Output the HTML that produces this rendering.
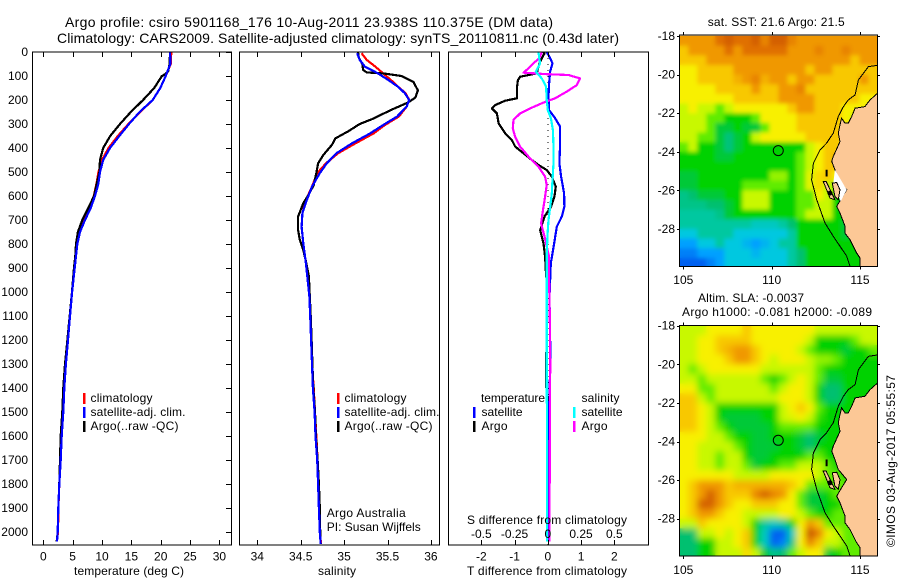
<!DOCTYPE html>
<html>
<head>
<meta charset="utf-8">
<title>Argo profile</title>
<style>
html,body{margin:0;padding:0;background:#fff;}
svg{display:block;}
text{font-family:"Liberation Sans",sans-serif;font-size:12px;fill:#000;}
.big{font-size:14px;}
.line{fill:none;stroke-width:2.2;shape-rendering:crispEdges;stroke-linejoin:round;}
.frame{fill:none;stroke:#000;stroke-width:1.4;shape-rendering:crispEdges;}
</style>
</head>
<body>
<svg id="chart" xmlns="http://www.w3.org/2000/svg" width="900" height="580" viewBox="0 0 900 580">
<rect x="0" y="0" width="900" height="580" fill="#fff"/>
<text class="big" x="65" y="27" textLength="488" lengthAdjust="spacing">Argo profile: csiro 5901168_176 10-Aug-2011 23.938S 110.375E (DM data)</text>
<text class="big" x="57" y="43" textLength="562" lengthAdjust="spacing">Climatology: CARS2009. Satellite-adjusted climatology: synTS_20110811.nc (0.43d later)</text>

<g id="p1"></g>
<g id="p2"></g>
<g id="p3"></g>

<text x="74" y="575" textLength="110">temperature (deg C)</text>
<text x="318" y="575" textLength="38">salinity</text>
<text x="467" y="575" textLength="160">T difference from climatology</text>
<text x="467" y="524" textLength="160">S difference from climatology</text>

<g>
<rect x="83" y="393" width="2.5" height="11" fill="#f00"/>
<rect x="83" y="407" width="2.5" height="11" fill="#00f"/>
<rect x="83" y="421" width="2.5" height="11" fill="#000"/>
<text x="90.5" y="402" textLength="62">climatology</text>
<text x="90.5" y="416" textLength="95">satellite-adj. clim.</text>
<text x="90.5" y="430" textLength="88">Argo(..raw -QC)</text>
</g>
<g>
<rect x="337" y="393" width="2.5" height="11" fill="#f00"/>
<rect x="337" y="407" width="2.5" height="11" fill="#00f"/>
<rect x="337" y="421" width="2.5" height="11" fill="#000"/>
<text x="344.5" y="402" textLength="62">climatology</text>
<text x="344.5" y="416" textLength="95">satellite-adj. clim.</text>
<text x="344.5" y="430" textLength="88">Argo(..raw -QC)</text>
<text x="326.7" y="517" textLength="79">Argo Australia</text>
<text x="326.7" y="531" textLength="94">PI: Susan Wijffels</text>
</g>
<g>
<text x="481" y="402" textLength="64">temperature</text>
<text x="581.5" y="402" textLength="38">salinity</text>
<rect x="473" y="407" width="2.5" height="11" fill="#00f"/>
<rect x="473" y="421" width="2.5" height="11" fill="#000"/>
<rect x="573" y="407" width="2.5" height="11" fill="#0ff"/>
<rect x="573" y="421" width="2.5" height="11" fill="#f0f"/>
<text x="481.5" y="416" textLength="41">satellite</text>
<text x="481.5" y="430" textLength="26">Argo</text>
<text x="581.5" y="416" textLength="41">satellite</text>
<text x="581.5" y="430" textLength="26">Argo</text>
</g>

<defs>
<clipPath id="clip1"><rect x="679.3" y="35" width="198" height="231.7"/></clipPath>
<clipPath id="clip2"><rect x="679.3" y="325.7" width="198" height="230.5"/></clipPath>
<filter id="soft1" filterUnits="userSpaceOnUse" x="660" y="20" width="240" height="260"><feGaussianBlur stdDeviation="2.2"/></filter>
<filter id="soft2" filterUnits="userSpaceOnUse" x="660" y="310" width="240" height="260"><feGaussianBlur stdDeviation="3.4"/></filter>
</defs>
<g id="m1"></g>
<g id="m2"></g>

<text x="707.7" y="26" textLength="137">sat. SST: 21.6 Argo: 21.5</text>
<text x="698" y="302" textLength="106">Altim. SLA: -0.0037</text>
<text x="682" y="316" textLength="190">Argo h1000: -0.081 h2000: -0.089</text>
<text transform="translate(895,547) rotate(-90)" textLength="172">©IMOS 03-Aug-2017 05:55:57</text>
</svg>

<script>
// ---- shared tick labels ----
const depthTicks = [0,100,200,300,400,500,600,700,800,900,1000,1100,1200,1300,1400,1500,1600,1700,1800,1900,2000];
const tempTicks = [0,5,10,15,20,25,30];
const salTicks = [34,34.5,35,35.5,36];
const salTickLabels = ['34','34.5','35','35.5','36'];
const tDiffTicks = [-2,-1,0,1,2];
const sDiffTicks = [-0.5,-0.25,0,0.25,0.5];
const sDiffTickLabels = ['-0.5','-0.25','0','0.25','0.5'];
const lonTicks = [105,110,115];
const latTicks = [-18,-20,-22,-24,-26,-28];

// ---- temperature panel ----
const tempClimDepths = [0,50,100,150,200,250,300,350,400,450,500,550,600,650,700,750,800,900,1000,1100,1200,1300,1400,1500,1600,1700,1800,1900,2000,2040];
const tempClim = [21.8,21.7,20.85,19.93,18.63,16.5,14.5,12.7,11.1,10.0,9.4,9.05,8.6,7.95,7.0,6.15,5.8,5.35,4.9,4.55,4.2,3.85,3.55,3.35,3.05,2.9,2.73,2.58,2.5,2.3];
const tempSat = [21.6,21.64,20.85,19.93,18.63,16.4,14.6,12.95,11.36,10.2,9.66,9.37,8.8,8.07,7.1,6.25,5.8,5.35,4.9,4.55,4.2,3.85,3.58,3.41,3.13,2.96,2.73,2.56,2.45,2.33];
const tempArgoDepths = [0,50,80,95,100,150,200,250,300,350,400,450,500,550,600,650,700,750,800,850,900,1000,1100,1200,1300,1400,1500,1600,1700,1800,1900,2000,2040];
const tempArgo = [21.6,21.5,21.3,20.6,20.2,18.9,17.0,14.9,13.07,11.4,10.2,9.66,9.55,9.1,8.64,7.67,6.65,5.9,5.57,5.45,5.23,4.89,4.5,4.1,3.7,3.41,3.24,2.96,2.84,2.73,2.56,2.45,2.28];

// ---- salinity panel ----
const salSatDepths = [5,33,61,89,117,144,172,200,228,269,304,339,381,422,464,505,561,617,672,728,797,880,1019,1100,1200,1300,1400,1500,1600,1700,1800,1900,2000,2050];
const salSat = [35.15,35.18,35.24,35.39,35.51,35.62,35.70,35.75,35.72,35.61,35.45,35.30,35.09,34.91,34.80,34.72,34.63,34.57,34.52,34.51,34.53,34.56,34.60,34.61,34.62,34.63,34.64,34.66,34.67,34.69,34.70,34.71,34.72,34.73];
const salClim = [35.20,35.26,35.36,35.45,35.54,35.62,35.71,35.75,35.72,35.63,35.47,35.34,35.13,34.93,34.79,34.69,34.63,34.56,34.52,34.51,34.53,34.56,34.60,34.61,34.62,34.63,34.65,34.665,34.68,34.695,34.705,34.715,34.72,34.735];
const salArgoDepths = [0,25,50,75,85,90,100,125,160,190,210,240,280,300,330,360,387,429,464,505,554,589,630,686,742,783,825,880,936,1019,1100,1200,1300,1400,1500,1600,1700,1800,1900,2000,2050];
const salArgo = [35.16,35.17,35.21,35.22,35.26,35.47,35.66,35.80,35.85,35.82,35.74,35.55,35.32,35.18,35.05,34.90,34.86,34.76,34.70,34.68,34.65,34.60,34.53,34.47,34.47,34.49,34.53,34.565,34.595,34.605,34.615,34.625,34.635,34.645,34.665,34.675,34.695,34.71,34.72,34.725,34.73];

// ---- difference panel ----
const dTArgoDepths = [0,6,26,47,75,89,103,117,151,193,203,221,235,256,297,339,367,394,422,450,471,492,519,561,603,644,686,742,797,853,908,964,1100,1300,1390,1500,1700,1800,2040];
const dTArgo = [-0.13,-0.10,-0.18,-0.25,-0.31,-0.33,-0.83,-0.90,-0.93,-0.93,-1.28,-1.58,-1.68,-1.53,-1.48,-1.28,-1.08,-0.98,-0.73,-0.48,-0.28,-0.03,0.12,0.24,0.20,0.10,-0.10,-0.23,-0.13,-0.08,-0.06,-0.03,-0.02,-0.05,-0.05,0.03,0.04,0.05,0.03];
const dTSatDepths = [0,26,47,82,131,186,242,276,311,381,464,519,589,644,686,728,814,880,1019,1300,1400,2040];
const dTSat = [-0.03,0.07,0.14,0.07,0.04,0.02,0.04,0.22,0.37,0.37,0.35,0.40,0.49,0.50,0.42,0.27,0.17,0.09,0.05,0.08,0.05,0.0];
const dSArgoDepths = [0,26,47,68,86,92,96,110,138,165,193,211,235,256,283,318,353,394,436,478,519,554,603,672,714,769,853,950,1100,1300,2040];
const dSArgo = [-0.045,-0.063,-0.108,-0.145,-0.183,-0.02,0.155,0.243,0.218,0.143,0.055,-0.033,-0.133,-0.208,-0.258,-0.263,-0.246,-0.208,-0.145,-0.07,-0.02,-0.008,-0.02,-0.04,-0.05,-0.025,0.01,0.01,0.015,0.018,0.012];
const dSSatDepths = [0,26,47,82,110,144,200,242,276,325,394,464,533,589,644,700,769,853,1100,2040];
const dSSat = [-0.07,-0.065,-0.058,-0.09,-0.045,-0.013,-0.008,0,0.023,0.038,0.043,0.043,0.035,0.03,0.018,0.005,-0.003,-0.008,-0.008,-0.005];

// ---- map grids: colour level per cell, north to south, west to east ----
const mapLon0 = 104.77, mapLonStep = 0.51, mapLat0 = -18, mapLatStep = 0.5;
const sstLevels = [
[10,10,10,10,11,11.5,11,11,11.5,10.5,11.5,11.5,10.5,10,10,10,10,10,10,10,10,10],
[9,10,10,10,10,11,10,11,11,11,11,11,10,10,10,10.5,10,10,10.5,10,10,10],
[9,9,9,10,10,10,10,10,10,10,10,10,10,10,10,10,10,10,10,9,10,10],
[8,8,9,9,9,9,10,10,10,10,10,10,10,10,9,10,10,9,9,9,9,9],
[8,8,9,9,9,9,9.5,10,10.5,9.5,10,10,9,10,10,9,9,9,9,9,10,9],
[8,8,8,8,9,9,9,9,10,9,9,10,10,10.5,9,9,9,9,9,9,9,9],
[8,8,8,8,8,8,9,9,9,9,9,10,10,10,10,9,9,9,9,9,8,8],
[7,8,7,7,6,7,8,8,8,8,8,8,9,10,10,9,9,9,8,8,8,8],
[7,7,7,6,6,5,5,5,6,8,8,8,8,9,9,9,9,9,8,7,5,5],
[7,7,7,6,4.5,4.5,5,4.5,4.5,6,8,8,8,9,9,9,9,9,8,8,5,5],
[7,7,6,6,4.5,3.8,4.5,5,7,8,8,8,8,8,9,9,9,9,9,9,5,5],
[6,7,5,5,4.5,3.8,4.5,5,5,5,5,5,5,5,7,8,9,9,9,9,5,5],
[5,5,5,5,4.5,4.5,5,5,5,5,5,5,5,6,7,8,9,9.5,9.5,9.5,5,5],
[5,5,5,5,5,5,5,5,5,5,5,5,5,6,7,8,9,9,9,5,5,5],
[4.5,4.5,5,5,5,5,5,5,5,5,6.5,6.5,5,6,7.5,8.5,9,8,5,5,5,5],
[4.5,4.5,5,5,5,5,5,6,6,6,6,6,5,6,7.5,8.5,7,6,5,5,5,5],
[3.5,4,4.5,4.5,4.5,5,5,7,7,7,5,5,5,6,6,8,7,5,5,5,5,5],
[3.5,3.5,3.5,4,4,4.5,5,7,7,7,5,5,5,6,6,7,7,5,5,5,5,5],
[3,3,3,3,3.5,4.5,5,5,5,5,5,5,5,6,7,7,7,5,5,5,5,5],
[3,3,3,3,3,3,3,3,2.5,2.5,2.5,3,4,5,5,5,5,5,4.5,5,5,5],
[2,2,3,3,3,3,2,2,2,2,2,2,3,5,5,5,5,5,4.5,5,5,5],
[1,1,2,2,3,2,2,1.5,1,1.5,2,3,3,5,5,5,5,5,5,5,5,5],
[0.5,0.5,1,1,1,2,2,2,1.5,2,2,2,3,4,5,5,5,5,5,5,5,5],
[0,0,0,0.5,1,2,2,2,2,2,2,2,3,4,5,5,5,5,5,5,5,5]
];
const slaLevels = [
[7,7,7,8,8,8,8,9,8,8,8,8,8,8,8,7,7,7,7,7,7,7],
[7,7,8,8,9,9,9,9,8,8,8,8,8,8,7,5,5,5,5,6,7,7],
[7,7,8,8,9,9.5,10,10,9,8,8,8,8,7,6,5,5,5,4.5,5,5,6],
[7,7,8,8,8,9,10,10,9,8,7,8,8,8,7,6.5,6.5,6,5,5,5,5],
[7,6,7,8,8,8,8,8,8,7,7,7,7,7,7,6,5,5,5,5,5,5],
[7,7,6,7,7,7,7,7,7,6,5,6,7,8,7,6,4.5,4.5,5,5,5,5],
[8,8,6,6,7,7,7,7,7,7,6,7,8,8,7,5,4,4,5,5,5,5],
[9,9,7,6,7,7,7,7,7,7,7,8,8,8,7,5,4,4,5,5,5,5],
[9,9,8,7,5,5,5,5,5,5,5,7,8,9,8,6,5,5,5,5,5,5],
[9,9,8,7,5,4.5,4.5,4.5,4.5,5,5,7,7.5,8,7,5.5,5,5,5,5,5,5],
[9,9,8,7,6,5,4.5,4.5,4.5,4.5,5,6,6,6,6,5,5,5,5,5,5,5],
[8,8,8,7,7,6,5,5,4.5,4.5,5,5,5,4.5,4,4.5,5,5,5,5,5,5],
[8,8,7,7,7,7,6,5,4.5,4.5,4.5,5,5,4.5,4,5,5,5,6,5,5,5],
[8,8,7,7,6,7,7,5,4.5,4.5,5,5,5,5,6,6,5,5,6,6,6,6],
[8,8,7,7,6,7,7,6,4.5,5,5,6,6,7,7,7,6,5,5,6,6,6],
[8,8,8,8,8,8,7,7,7,7,8,8,8,8,8,7,6,6,5,5,6,6],
[8,9,10,10,10,9,9.5,9.5,9.5,9.5,9.5,9.5,9,8,6,6,6,6,6,6,6,6],
[8,9,10,11.5,10,9,9,9,10.5,11.5,10.5,10,8,6,4.5,4.5,5,6,6,6,6,6],
[8,9,11.5,11.5,10,9,8,8,9,9,9,8,8,6,4.5,4.5,5,5,6,6,7,7],
[8,9,10,10,9,8,8,7,7,7,7,8,8,7,6,5,5,6,6,6,7,7],
[7,7,9,8,8,8,8,7,5,3,2.5,3,5,8,10,9,6,6,6,6,7,7],
[4,4,7,7,8,7,8,9,5,2.5,0,0,2.5,8,12,10.5,8,7,6,6,6,6],
[4,4,5,5,7,7,8,9,5,2.5,0,0.5,3.5,8,10.5,9,7,7,6,6,6,6],
[4,4,5,5,7,7,7,8.5,7,4.5,3.5,4,6,7,8,8,4.5,5,6,6,6,6]
];
const floatLon = 110.375, floatLat = -23.938;
// colour ramp stops, level 0..12
const ramp = [[0,96,240],[0,160,255],[0,200,224],[0,200,160],[0,192,112],[0,210,0],[96,236,0],[200,248,0],[248,240,0],[248,200,0],[240,152,0],[224,112,0],[200,80,0]];
// geography (lon, lat)
const coastLon = [116.1,115.57,115.28,114.72,114.53,114.34,114.15,113.96,113.87,113.77,113.87,113.49,113.40,113.58,113.77,114.25,113.96,113.68,113.87,114.15,114.15,114.43,114.81,115,115,116.1];
const coastLat = [-20.88,-21.31,-21.66,-21.74,-22.17,-22.52,-22.52,-22.26,-22.60,-23.03,-23.47,-24.24,-24.50,-24.93,-25.45,-25.97,-26.40,-26.83,-27.17,-27.86,-28.21,-28.55,-29.24,-29.50,-30.02,-30.02];
const isoLon = [116.1,115.47,114.91,114.72,114.34,114.06,113.77,113.49,113.11,112.74,112.36,112.26,112.55,113.02,113.49,114.25,114.47];
const isoLat = [-19.5,-19.59,-20.28,-21.05,-21.31,-21.66,-22.17,-23.03,-23.55,-23.90,-24.59,-25.45,-26.48,-27.69,-28.38,-29.41,-30.02];
const bayLon = [113.58,114.25,113.91,113.49];
const bayLat = [-24.93,-25.97,-26.57,-25.62];
const peninsulaLon = [113.43,113.68,113.87,113.77,113.58];
const peninsulaLat = [-25.62,-25.59,-25.97,-26.48,-26.31];
const islandLon = [112.92,113.08,113.58,113.30];
const islandLat = [-25.53,-25.53,-26.48,-26.40];

const NS = 'http://www.w3.org/2000/svg';
function mk(parent, tag, attrs, txt){
  const el = document.createElementNS(NS, tag);
  for (const k in attrs) el.setAttribute(k, attrs[k]);
  if (txt !== undefined) el.textContent = txt;
  parent.appendChild(el);
  return el;
}
function yDepth(d){ return 52 + 0.24 * d; }
const xTemp = v => 43.3 + 5.87 * v;
const xSal = v => 257.3 + 86.8 * (v - 34);
const xDT = v => 547.8 + 33.25 * v;
const xDS = v => 547.8 + 133 * v;
const xLon = v => 683.3 + 17.67 * (v - 105);

function drawProfile(g, depths, values, xf, color, name){
  const pts = depths.map((d, i) => xf(values[i]).toFixed(1) + ',' + yDepth(d).toFixed(1)).join(' ');
  const el = mk(g, 'polyline', {points: pts, class: 'line', stroke: color});
  
  
}
function xTicksFor(g, ticks, labels, xf){
  ticks.forEach((t, i) => {
    const x = Math.round(xf(t)) + 0.5;
    const top = mk(g, 'line', {x1: x, x2: x, y1: 52, y2: 57, stroke: '#000', 'shape-rendering': 'crispEdges'});
    
    
    const bot = mk(g, 'line', {x1: x, x2: x, y1: 540, y2: 545, stroke: '#000', 'shape-rendering': 'crispEdges'});
    
    
    const lab = mk(g, 'text', {x: xf(t), y: 560.5, 'text-anchor': 'middle'}, labels[i]);
    
    
  });
}
function frame(g, x, w, name){
  const r = mk(g, 'rect', {x: x, y: 52, width: w, height: 493, class: 'frame'});
  
  
}

// Panel 1
const p1 = document.getElementById('p1');
drawProfile(p1, tempClimDepths, tempClim, xTemp, '#f00', 'temperature-climatology-line');
drawProfile(p1, tempArgoDepths, tempArgo, xTemp, '#000', 'temperature-argo-line');
drawProfile(p1, tempClimDepths, tempSat, xTemp, '#00f', 'temperature-satellite-line');
frame(p1, 32.5, 199, 'temperature-plot-frame');
xTicksFor(p1, tempTicks, tempTicks.map(String), xTemp);
depthTicks.forEach(d => {
  const y = Math.round(yDepth(d)) + 0.5;
  const tk = mk(p1, 'line', {x1: 226, x2: 231, y1: y, y2: y, stroke: '#000', 'shape-rendering': 'crispEdges'});
  
  
  const lab = mk(p1, 'text', {x: 28, y: yDepth(d) + 4, 'text-anchor': 'end'}, String(d));
  
  
});

// Panel 2
const p2 = document.getElementById('p2');
drawProfile(p2, salSatDepths, salClim, xSal, '#f00', 'salinity-climatology-line');
drawProfile(p2, salArgoDepths, salArgo, xSal, '#000', 'salinity-argo-line');
drawProfile(p2, salSatDepths, salSat, xSal, '#00f', 'salinity-satellite-line');
frame(p2, 239.5, 200, 'salinity-plot-frame');
xTicksFor(p2, salTicks, salTickLabels, xSal);

// Panel 3
const p3 = document.getElementById('p3');
const zero = mk(p3, 'line', {x1: 548, x2: 548, y1: 52, y2: 545, stroke: '#000', 'stroke-dasharray': '1 5', 'shape-rendering': 'crispEdges'});


drawProfile(p3, dTArgoDepths, dTArgo, xDT, '#000', 't-diff-argo-line');
drawProfile(p3, dTSatDepths, dTSat, xDT, '#00f', 't-diff-satellite-line');
drawProfile(p3, dSArgoDepths, dSArgo, xDS, '#f0f', 's-diff-argo-line');
drawProfile(p3, dSSatDepths, dSSat, xDS, '#0ff', 's-diff-satellite-line');
frame(p3, 448.5, 200, 'difference-plot-frame');
xTicksFor(p3, tDiffTicks, tDiffTicks.map(String), xDT);
sDiffTicks.forEach((t, i) => {
  const lab = mk(p3, 'text', {x: xDS(t), y: 538, 'text-anchor': 'middle'}, sDiffTickLabels[i]);
  
  
});

// Maps
function levelColor(v){
  const c = Math.max(0, Math.min(12, v));
  const a = Math.floor(c), b = Math.min(12, a + 1), f = c - a;
  const rgb = [0,1,2].map(k => Math.round(ramp[a][k] + (ramp[b][k] - ramp[a][k]) * f));
  return 'rgb(' + rgb.join(',') + ')';
}
function polyPts(lons, lats, yf){
  return lons.map((l, i) => xLon(l).toFixed(1) + ',' + yf(lats[i]).toFixed(1)).join(' ');
}
function drawMap(id, levels, yLat, clipId, blurId, top, bottom, axisY, showBay){
  const g = document.getElementById(id);
  const inner = mk(g, 'g', {'clip-path': 'url(#' + clipId + ')'});
  
  
  for (let pass = 0; pass < 2; pass++) {
    const layer = mk(inner, 'g', pass ? {filter: 'url(#' + blurId + ')'} : {});
    
    
    levels.forEach((row, j) => {
      row.forEach((v, i) => {
        const lonA = mapLon0 + i * mapLonStep;
        const latA = mapLat0 - j * mapLatStep;
        const x = xLon(lonA);
        const y = yLat(latA);
        const cell = mk(layer, 'rect', {
          x: x.toFixed(2), y: y.toFixed(2),
          width: (xLon(lonA + mapLonStep) - x + 0.4).toFixed(2),
          height: (yLat(latA - mapLatStep) - y + 0.4).toFixed(2),
          fill: levelColor(v)
        });
        
        
      });
    });
  }
  const land = mk(inner, 'polygon', {points: polyPts(coastLon, coastLat, yLat), fill: '#fcc896', stroke: '#000', 'stroke-width': 1, 'shape-rendering': 'crispEdges'});
  
  
  if (showBay) {
    const bayCover = mk(inner, 'polygon', {points: polyPts(bayLon, bayLat, yLat), fill: '#fff'});
    
    
  }
  const pen = mk(inner, 'polygon', {points: polyPts(peninsulaLon, peninsulaLat, yLat), fill: '#fcc896', stroke: '#000', 'shape-rendering': 'crispEdges'});
  
  
  const isl = mk(inner, 'polygon', {points: polyPts(islandLon, islandLat, yLat), fill: '#fcc896', stroke: '#000', 'shape-rendering': 'crispEdges'});
  
  
  const blob = mk(inner, 'circle', {cx: xLon(113.3), cy: yLat(-26.14), r: 2.5, fill: '#000'});
  
  
  const bar = mk(inner, 'line', {x1: xLon(113.11), x2: xLon(113.11), y1: yLat(-24.93), y2: yLat(-25.28), stroke: '#000', 'stroke-width': 2});
  
  
  const iso = mk(inner, 'polyline', {points: polyPts(isoLon, isoLat, yLat), fill: 'none', stroke: '#000', 'stroke-width': 1, 'shape-rendering': 'crispEdges'});
  
  
  const fr = mk(g, 'rect', {x: 679.5, y: top, width: 198, height: bottom - top, fill: 'none', stroke: '#000', 'shape-rendering': 'crispEdges'});
  
  
  lonTicks.forEach(t => {
    const x = Math.round(xLon(t)) + 0.5;
    const t1 = mk(g, 'line', {x1: x, x2: x, y1: top - 3, y2: top, stroke: '#000', 'shape-rendering': 'crispEdges'});
    
    
    const t2 = mk(g, 'line', {x1: x, x2: x, y1: bottom, y2: bottom + 3, stroke: '#000', 'shape-rendering': 'crispEdges'});
    
    
    const lab = mk(g, 'text', {x: xLon(t), y: axisY, 'text-anchor': 'middle'}, String(t));
    
    
  });
  latTicks.forEach(t => {
    const y = Math.round(yLat(t)) + 0.5;
    const t1 = mk(g, 'line', {x1: 677, x2: 680, y1: y, y2: y, stroke: '#000', 'shape-rendering': 'crispEdges'});
    
    
    const t2 = mk(g, 'line', {x1: 877, x2: 880, y1: y, y2: y, stroke: '#000', 'shape-rendering': 'crispEdges'});
    
    
    const lab = mk(g, 'text', {x: 675, y: yLat(t) + 4, 'text-anchor': 'end'}, String(t));
    
    
  });
  const m = mk(g, 'circle', {cx: xLon(floatLon), cy: yLat(floatLat), r: 5, fill: 'none', stroke: '#000', 'stroke-width': 1});
  
  
}
drawMap('m1', sstLevels, v => 36 + 19.3 * (-18 - v), 'clip1', 'soft1', 35, 266.7, 284, true);
drawMap('m2', slaLevels, v => 325.7 + 19.3 * (-18 - v), 'clip2', 'soft2', 325.7, 556, 574, false);
</script>
</body>
</html>
